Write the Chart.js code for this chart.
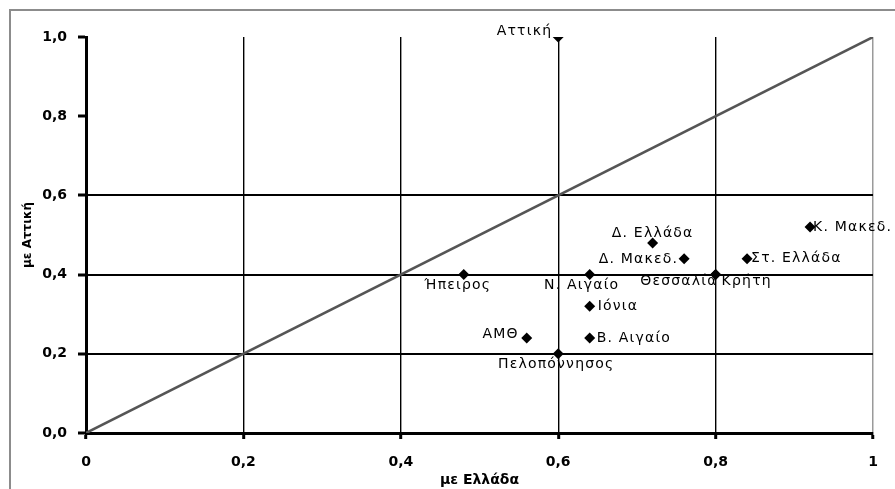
<!DOCTYPE html>
<html>
<head>
<meta charset="utf-8">
<script src="https://cdn.jsdelivr.net/npm/chart.js@4"></script>
<style>
  html, body { margin: 0; padding: 0; background: #fff; overflow: hidden; }
  #wrap { position: relative; width: 895px; height: 489px; }
</style>
</head>
<body>
<div id="wrap">
  <canvas id="regionChart"></canvas>
</div>
<script>
// Regions and their two correlation values
const regions = [
  'Αττική', 'Ήπειρος', 'Ν. Αιγαίο', 'Θεσσαλία', 'Κρήτη', 'Δ. Ελλάδα', 'Δ. Μακεδ.',
  'Στ. Ελλάδα', 'Κ. Μακεδ.', 'Ιόνια', 'ΑΜΘ', 'Β. Αιγαίο', 'Πελοπόννησος'
];
const withGreece = [0.60, 0.48, 0.64, 0.80, 0.80, 0.72, 0.76, 0.84, 0.92, 0.64, 0.56, 0.64, 0.60];
const withAttica = [1.00, 0.40, 0.40, 0.40, 0.40, 0.48, 0.44, 0.44, 0.52, 0.32, 0.24, 0.24, 0.20];
const diagonal = [0, 1];
const tickValues = [0, 0.2, 0.4, 0.6, 0.8, 1];

// where each label sits relative to its point: [dx, dy, textAlign]
const labelPlace = [
  [-6, -6, 'right'], [-6, 11, 'center'], [-8, 11, 'center'], [2, 7, 'right'], [6, 7, 'left'],
  [0, -10, 'center'], [-6, 1, 'right'], [4, 0, 'left'], [3, 0, 'left'], [8, 0, 'left'],
  [-8, -4, 'right'], [7, 0, 'left'], [-2, 11, 'center']
];

const comma = (v, keepInt) => (keepInt && Number.isInteger(v)) ? String(v) : v.toFixed(1).replace('.', ',');

// grey frame around the chart (only left/top are inside the picture)
const frame = {
  id: 'frame',
  beforeDraw(chart) {
    const ctx = chart.ctx;
    ctx.save();
    ctx.strokeStyle = '#8c8c8c';
    ctx.lineWidth = 2;
    ctx.beginPath();
    ctx.moveTo(10, chart.height);
    ctx.lineTo(10, 10);
    ctx.lineTo(chart.width, 10);
    ctx.stroke();
    ctx.restore();
  }
};

const pointLabels = {
  id: 'pointLabels',
  afterDatasetsDraw(chart) {
    const ctx = chart.ctx;
    const meta = chart.getDatasetMeta(0);
    ctx.save();
    ctx.font = '14px "DejaVu Sans"';
    ctx.letterSpacing = '1.2px';
    ctx.fillStyle = '#000';
    ctx.textBaseline = 'middle';
    meta.data.forEach((pt, i) => {
      const [dx, dy, align] = labelPlace[i];
      ctx.textAlign = align;
      ctx.fillText(regions[i], pt.x + dx, pt.y + dy);
    });
    ctx.restore();
  }
};

const tickFont = { family: 'DejaVu Sans', size: 14, weight: 'bold' };

new Chart(document.getElementById('regionChart').getContext('2d'), {
  type: 'scatter',
  data: {
    datasets: [
      {
        label: 'Περιφέρειες',
        data: regions.map((r, i) => ({ x: withGreece[i], y: withAttica[i] })),
        pointStyle: 'rectRot',
        pointRadius: 5.5,
        backgroundColor: '#000',
        borderColor: '#000',
        borderWidth: 0,
        order: 0
      },
      {
        label: 'y = x',
        data: diagonal.map(v => ({ x: v, y: v })),
        showLine: true,
        borderColor: '#555',
        borderWidth: 2.5,
        pointRadius: 0,
        order: 1
      }
    ]
  },
  options: {
    responsive: true,
    maintainAspectRatio: false,
    animation: false,
    layout: { padding: { left: 10, right: 22, top: 37, bottom: 0 } },
    plugins: {
      legend: { display: false },
      tooltip: { enabled: false }
    },
    scales: {
      x: {
        type: 'linear',
        min: 0,
        max: 1,
        afterBuildTicks: (scale) => { scale.ticks = tickValues.map(v => ({ value: v })); },
        afterFit: (scale) => { scale.height = 56; },
        ticks: {
          padding: 15,
          color: '#000',
          font: tickFont,
          maxRotation: 0,
          callback: (v) => comma(v, true)
        },
        grid: {
          color: (c) => c.tick && c.tick.value === 1 ? '#9a9a9a' : '#000',
          lineWidth: (c) => c.tick && c.tick.value === 1 ? 1.5 : 1.4,
          tickColor: '#000',
          tickWidth: 3,
          tickLength: 6
        },
        border: { color: '#000', width: 3 },
        title: {
          display: true,
          text: 'με Ελλάδα',
          color: '#000',
          font: { family: 'DejaVu Sans', size: 14, weight: 'bold' },
          padding: { top: 2, bottom: 0 }
        }
      },
      y: {
        type: 'linear',
        min: 0,
        max: 1,
        afterBuildTicks: (scale) => { scale.ticks = tickValues.map(v => ({ value: v })); },
        afterFit: (scale) => { scale.width = 76; },
        ticks: {
          padding: 11,
          color: '#000',
          font: tickFont,
          callback: (v) => comma(v, false)
        },
        grid: {
          color: (c) => c.tick && c.tick.value > 0 && c.tick.value < 0.7 ? '#000' : 'rgba(0,0,0,0)',
          lineWidth: 2,
          tickColor: '#000',
          tickWidth: 3,
          tickLength: 8
        },
        border: { color: '#000', width: 3 },
        title: {
          display: true,
          text: 'με Αττική',
          color: '#000',
          font: { family: 'DejaVu Sans', size: 12, weight: 'bold' },
          padding: { top: 11, bottom: 0 }
        }
      }
    }
  },
  plugins: [frame, pointLabels]
});
</script>
</body>
</html>
